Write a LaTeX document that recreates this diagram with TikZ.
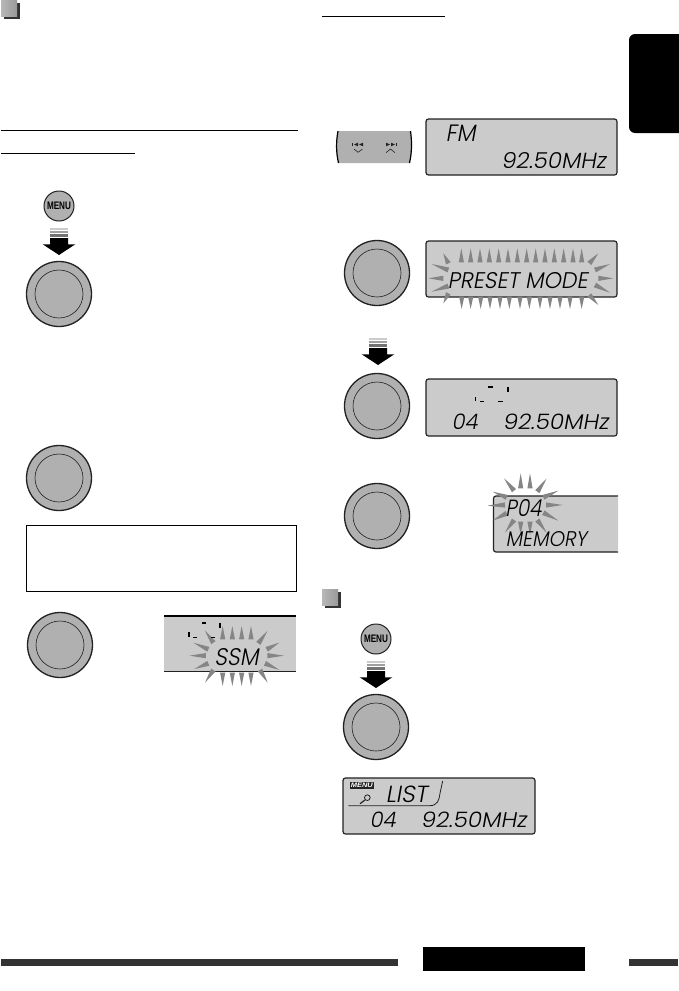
\documentclass[tikz,border=0pt]{standalone}
\usepackage{fontspec}
\usetikzlibrary{calc}
\newfontfamily\lcdfont{Poppins Light}
\newfontfamily\btnfont{Liberation Sans}
\definecolor{knobgray}{HTML}{B0B0B0}
\definecolor{lcdgray}{HTML}{CBCBCB}
\definecolor{spikegray}{HTML}{858585}
\definecolor{inkgray}{HTML}{222222}
\definecolor{bargray}{HTML}{333333}
\tikzset{
  knobout/.style={circle,draw=inkgray,line width=1.3pt,fill=knobgray,minimum size=65pt,inner sep=0pt},
  knobin/.style={circle,draw=inkgray,line width=.6pt,minimum size=48pt,inner sep=0pt},
  menubtn/.style={circle,draw=inkgray,line width=1pt,fill=knobgray,minimum size=30pt,inner sep=0pt,font=\btnfont\bfseries},
  lcdbox/.style={draw=inkgray,line width=1.2pt,fill=lcdgray,rounded corners=2.5pt},
  spike/.style={fill=spikegray},
  lcdtext/.style={inner sep=0pt,text=black,font=\lcdfont,xslant=.18},
  rule/.style={black,line width=1pt}
}
% name, cx, cy
\newcommand\knob[3]{\node[knobout] (#1) at (#2,#3) {}; \node[knobin] (#1i) at (#2,#3) {};}
% name, cx, cy, w, h, text
\newcommand\lcdt[6]{\node[lcdtext] (#1) at (#2,#3) {\resizebox{#4pt}{#5pt}{#6}};}
% base x,y tip x,y
\newcommand\spk[4]{\fill[spike] ($(#1,#2)!2.6pt!90:(#3,#4)$) -- (#3,#4) -- ($(#1,#2)!2.6pt!-90:(#3,#4)$) -- cycle;}
% cx, tip y
\newcommand\press[2]{
  \fill[lcdgray] (#1-9,#2-27) rectangle (#1+9,#2-25);
  \fill[knobgray!90!black] (#1-9,#2-24.3) rectangle (#1+9,#2-21.7);
  \fill[black!55] (#1-9,#2-21) rectangle (#1+9,#2-18.3);
  \fill[black] (#1-9,#2-17) -- (#1+9,#2-17) -- (#1+9,#2-10.7) -- (#1+16.3,#2-10.7) -- (#1,#2) -- (#1-16.3,#2-10.7) -- (#1-9,#2-10.7) -- cycle;
}
\newcommand\bullsq[2]{
  \fill[bargray] (#1+3,#2+3) rectangle (#1+19,#2+18.5);
  \shade[left color=black!28,right color=black!40] (#1,#2) rectangle (#1+16,#2+16);
}
\begin{document}
\begin{tikzpicture}[x=1pt,y=-1pt]
\useasboundingbox (0,0) rectangle (678,991);
\fill[white] (0,0) rectangle (678,991);

% section squares
\bullsq{1}{0}
\bullsq{322}{589}

% rules
\draw[rule] (1,130.5) -- (298,130.5);
\draw[rule] (1,153.5) -- (135,153.5);
\draw[rule] (322,16) -- (445,16);

% side tab
\fill[black,rounded corners=6pt] (629,34) rectangle (690,133);

% left column
\node[menubtn] (m1) at (59,206) {\resizebox{24pt}{7.5pt}{MENU}};
\press{59}{255}
\knob{k1}{59}{294}
\knob{k2}{59}{478}
\draw[black,line width=1pt] (26.3,525.3) rectangle (296,591);
\knob{k3}{60}{645}

% SSM display
\fill[lcdgray] (164,616) rectangle (296,671.5);
\draw[black,line width=1.8pt] (164,616) -- (296,616);
\draw[inkgray,line width=1.2pt] (164,671.5) -- (296,671.5);
\begin{scope}[shift={(0pt,-500pt)},x=.33333pt,y=-.33333pt]
  \foreach \x in {668,697,725,753}{\spk{\x}{418}{\x}{378}\spk{\x}{518}{\x}{558}}
  \spk{640}{428}{615}{392}\spk{775}{430}{803}{392}
  \spk{625}{448}{580}{428}\spk{800}{448}{838}{428}
  \spk{618}{467}{568}{467}\spk{802}{467}{852}{467}
  \spk{625}{490}{583}{507}\spk{795}{490}{838}{510}
  \spk{640}{510}{615}{548}\spk{780}{510}{803}{548}
  \fill[black] (605,366) rectangle (618,371);
  \fill[black] (657,370) rectangle (662,384);
  \fill[black] (564,397) rectangle (569,410);
  \fill[black] (580,410) rectangle (590,412.5);
  \fill[black] (632,410) rectangle (645,412.5);
\end{scope}
\lcdt{ssm}{238}{657.5}{44}{17}{SSM}

% right column: seek buttons
\fill[knobgray] (338,131) .. controls (336,142) and (336,152) .. (338.5,163) -- (409.5,163) .. controls (412,152) and (412,142) .. (410.5,131) -- cycle;
\draw[black,line width=1.2pt] (338,131) .. controls (336,142) and (336,152) .. (338.5,163);
\draw[black,line width=1.2pt] (410.5,131) .. controls (412,142) and (412,152) .. (409.5,163);
\begin{scope}[inkgray]
  \fill (352.3,143) rectangle (353,146);
  \fill (358,142.7) -- (358,146.3) -- (354,144.5) -- cycle;
  \fill (363,142.7) -- (363,146.3) -- (359,144.5) -- cycle;
  \fill (386,142.7) -- (386,146.3) -- (390,144.5) -- cycle;
  \fill (391,142.7) -- (391,146.3) -- (395,144.5) -- cycle;
  \fill (396,143) rectangle (397,146);
  \draw[line width=.6pt] (354,149) -- (358,152.3) -- (362.5,149);
  \draw[line width=.6pt] (386,152.7) -- (390.5,149) -- (395,152.7);
\end{scope}

% FM display
\draw[lcdbox] (426,119) rectangle (617,175);
\lcdt{fm}{462}{133.5}{30}{16.5}{FM}
\lcdt{f1}{555}{160.5}{105}{16}{92.50MHz}

% preset display
\knob{k4}{377}{273}
\draw[lcdbox] (426,241) rectangle (617,297);
\begin{scope}[shift={(320pt,-100pt)},x=.33333pt,y=-.33333pt]
  \foreach \x in {424,452,480,508,536,564,592,620,647,675,703,731,759,785}{\spk{\x}{487}{\x}{445}}
  \foreach \x in {425,452,482,510,540,568,600,628,660,690,720,750,785}{\spk{\x}{590}{\x}{627}}
  \spk{385}{490}{370}{460}\spk{808}{490}{835}{460}
  \spk{385}{510}{335}{492}\spk{825}{510}{870}{492}
  \spk{370}{535}{325}{535}\spk{835}{535}{880}{535}
  \spk{385}{558}{335}{575}\spk{825}{555}{870}{578}
  \spk{385}{580}{370}{610}\spk{808}{585}{835}{615}
\end{scope}
\lcdt{pm}{519}{281}{140}{16}{PRESET MODE}

% preset no. display
\press{378}{365}
\knob{k5}{377}{406}
\draw[lcdbox] (426,379) rectangle (617,436);
\begin{scope}[shift={(330pt,-340pt)},x=.33333pt,y=-.33333pt]
  \fill[black] (475,138) rectangle (488,143);
  \fill[black] (531,141) rectangle (536,155);
  \fill[black] (435,170) rectangle (438,182);
  \fill[black] (450,182) rectangle (462,184.5);
  \fill[black] (505,183) rectangle (518,185.5);
\end{scope}
\lcdt{n4}{466}{421.5}{26}{15.5}{04}
\lcdt{f2}{557}{421.5}{106}{15.5}{92.50MHz}

% memory display
\knob{k6}{377}{516}
\fill[lcdgray,rounded corners=2.5pt] (493.5,496) -- (493.5,552) -- (618,552) -- (618,496) -- cycle;
\draw[inkgray,line width=1.2pt,rounded corners=2.5pt] (618,496) -- (493.5,496) -- (493.5,552) -- (618,552);
\begin{scope}[shift={(330pt,-340pt)},x=.33333pt,y=-.33333pt]
  \spk{572}{445}{572}{400}\spk{600}{445}{600}{400}
  \spk{552}{452}{522}{415}\spk{622}{455}{650}{415}
  \spk{530}{472}{488}{455}\spk{640}{472}{685}{452}
  \spk{525}{495}{472}{497}\spk{648}{495}{698}{495}
  \spk{530}{520}{487}{542}\spk{640}{518}{685}{542}
  \spk{552}{540}{525}{578}\spk{622}{540}{650}{578}
  \spk{572}{545}{572}{585}\spk{600}{545}{600}{585}
\end{scope}
\lcdt{p4}{525}{508}{36}{17}{P04}
\lcdt{mem}{547.5}{539.5}{81}{15}{MEMORY}

% menu / list section
\node[menubtn] (m2) at (376,639) {\resizebox{24pt}{7.5pt}{MENU}};
\press{376}{688}
\knob{k7}{376}{727}
\draw[lcdbox] (343,778) rectangle (535,834);
\begin{scope}[shift={(340pt,-770pt)},x=.33333pt,y=-.33333pt]
  \fill[inkgray] (30,37) rectangle (101,56);
  \node[inner sep=0pt,text=white,font=\btnfont\bfseries\itshape] (mn) at (65.5,46.5) {\resizebox{22pt}{4.5pt}{MENU}};
  \draw[inkgray,line width=.8pt] (82,83) circle (8.5);
  \draw[inkgray,line width=1.2pt] (75,90) -- (60,101);
  \draw[inkgray,line width=.8pt] (25,107) -- (270,107) .. controls (292,107) and (298,90) .. (300,70) -- (308,33);
\end{scope}
\lcdt{ls}{408}{794.5}{42}{16.5}{LIST}
\lcdt{n5}{384}{820}{26}{15.5}{04}
\lcdt{f3}{475}{820}{106}{15.5}{92.50MHz}

% bottom bars
\fill[bargray] (1,959) rectangle (398,966);
\fill[black] (423,947) rectangle (585,971);
\fill[bargray] (629,959) rectangle (678,966);
\end{tikzpicture}
\end{document}
